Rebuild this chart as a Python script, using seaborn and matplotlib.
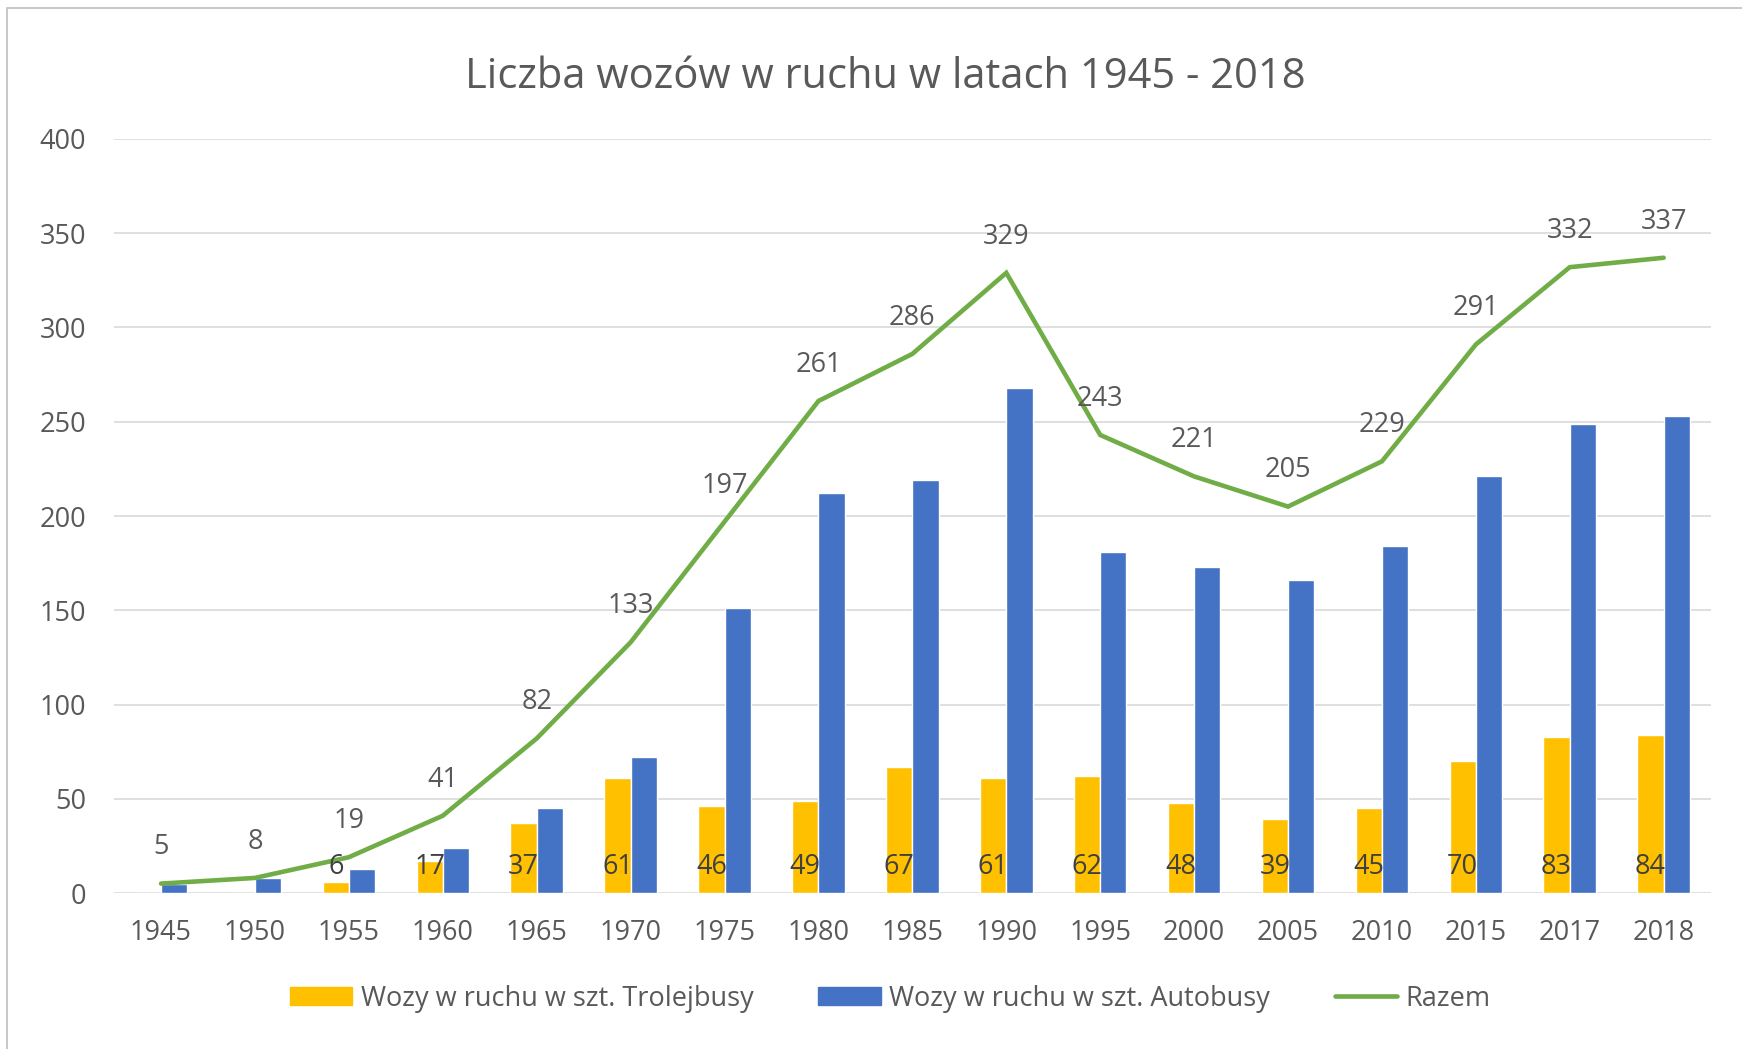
import matplotlib
matplotlib.use('Agg')
import matplotlib.pyplot as plt
from matplotlib.patches import Rectangle
from matplotlib.lines import Line2D
import numpy as np
import pandas as pd
import seaborn as sns

YEARS = ['1945', '1950', '1955', '1960', '1965', '1970', '1975', '1980', '1985',
         '1990', '1995', '2000', '2005', '2010', '2015', '2017', '2018']
TROLEJBUSY = [0, 0, 6, 17, 37, 61, 46, 49, 67, 61, 62, 48, 39, 45, 70, 83, 84]
AUTOBUSY = [5, 8, 13, 24, 45, 72, 151, 212, 219, 268, 181, 173, 166, 184, 221, 249, 253]
RAZEM = [5, 8, 19, 41, 82, 133, 197, 261, 286, 329, 243, 221, 205, 229, 291, 332, 337]

LABEL_TROL = 'Wozy w ruchu w szt. Trolejbusy'
LABEL_AUTO = 'Wozy w ruchu w szt. Autobusy'
LABEL_RAZEM = 'Razem'
TITLE = 'Liczba wozów w ruchu w latach 1945 - 2018'

YELLOW = '#FFC000'
BLUE = '#4472C4'
GREEN = '#70AD47'
TEXT = '#595959'
FS = 19.5


def main():
    sns.set_theme(style='white')
    plt.rcParams['font.family'] = ['Open Sans', 'DejaVu Sans']

    df = pd.DataFrame({'Rok': YEARS, LABEL_TROL: TROLEJBUSY, LABEL_AUTO: AUTOBUSY})
    long_df = df.melt(id_vars='Rok', var_name='Seria', value_name='Wartosc')

    fig = plt.figure(figsize=(17.42, 10.49), dpi=100)
    ax = fig.add_axes([0.0655, 0.1487, 0.9165, 0.7188])

    sns.barplot(data=long_df, x='Rok', y='Wartosc', hue='Seria',
                palette=[YELLOW, BLUE], width=0.56, gap=0, ax=ax,
                legend=False, saturation=1, zorder=2)
    positions = np.arange(len(YEARS))
    sns.lineplot(x=positions, y=RAZEM, color=GREEN, linewidth=3.3, ax=ax,
                 zorder=3, solid_joinstyle='miter')

    # labels for totals above the line
    for x, v in zip(positions, RAZEM):
        ax.annotate(str(v), (x, v), xytext=(0, 26), textcoords='offset points',
                    ha='center', va='center', fontsize=FS, color=TEXT, zorder=4)

    # trolleybus labels at the base of yellow bars
    trol_bars = ax.containers[0]
    for bar, v in zip(trol_bars, TROLEJBUSY):
        if v == 0:
            continue
        ax.annotate(str(v), (bar.get_x() + bar.get_width() / 2, 0), xytext=(0, 19),
                    textcoords='offset points', ha='center', va='center',
                    fontsize=FS, color='#404040', zorder=4)

    ax.set_ylim(0, 400)
    ax.set_xlim(-0.5, len(YEARS) - 0.5)
    ax.set_yticks(range(0, 401, 50))
    ax.yaxis.grid(True, color='#D9D9D9', linewidth=1.2)
    ax.set_axisbelow(True)
    for s in ax.spines.values():
        s.set_visible(False)
    ax.tick_params(axis='both', length=0, labelsize=FS, labelcolor=TEXT)
    ax.tick_params(axis='y', pad=20)
    ax.tick_params(axis='x', pad=19)
    ax.set_xlabel('')
    ax.set_ylabel('')

    fig.text(0.508, 0.927, TITLE, ha='center', va='center', fontsize=30, color=TEXT)

    handles = [
        Rectangle((0, 0), 1, 1, color=YELLOW),
        Rectangle((0, 0), 1, 1, color=BLUE),
        Line2D([0], [0], color=GREEN, linewidth=3.3),
    ]
    fig.legend(handles, [LABEL_TROL, LABEL_AUTO, LABEL_RAZEM], loc='center',
               bbox_to_anchor=(0.511, 0.048), ncol=3, frameon=False,
               fontsize=FS, labelcolor=TEXT, handlelength=2.3, handleheight=0.65,
               handletextpad=0.3, columnspacing=2.4)

    fig.patches.append(Rectangle((0.004, -0.1), 1.1, 1.092, transform=fig.transFigure,
                                 fill=False, edgecolor='#BFBFBF', linewidth=1.2))

    fig.savefig('out.png', dpi=100)


if __name__ == '__main__':
    main()
